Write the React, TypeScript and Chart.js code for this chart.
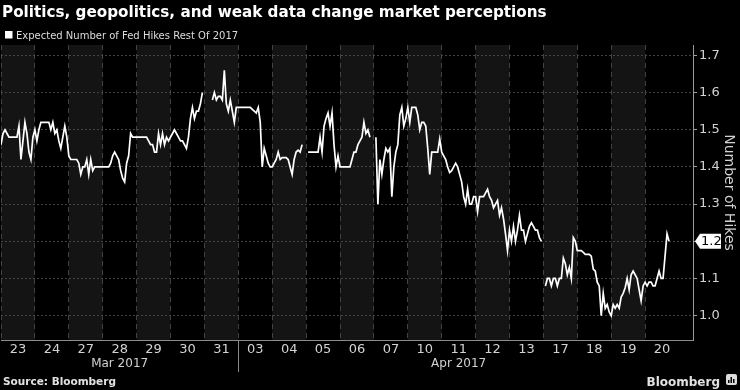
import React, { useEffect, useRef } from 'react';
import { Chart, registerables } from 'chart.js';

Chart.register(...registerables);

const chartTitle = 'Politics, geopolitics, and weak data change market perceptions';
const seriesName = 'Expected Number of Fed Hikes Rest Of 2017';
const axisTitle = 'Number of Hikes';
const sourceText = 'Source: Bloomberg';
const brandText = 'Bloomberg';

const dayLabels = ['23', '24', '27', '28', '29', '30', '31', '03', '04', '05', '06', '07', '10', '11', '12', '13', '17', '18', '19', '20'];
const monthNames = ['Mar 2017', 'Apr 2017'];
const monthStartIdx = [0, 7];
const yTicks = [1.0, 1.1, 1.2, 1.3, 1.4, 1.5, 1.6, 1.7];

// intraday readings per trading day (evenly spaced within each day)
const d23 = [1.46, 1.49, 1.5, 1.49, 1.48, 1.48, 1.48, 1.48, 1.48, 1.51, 1.42, 1.47, 1.52, 1.49, 1.44, 1.42, 1.48];
const d24 = [1.5, 1.47, 1.5, 1.52, 1.52, 1.52, 1.52, 1.52, 1.5, 1.52, 1.49, 1.5, 1.47, 1.45, 1.48, 1.51, 1.48];
const d27 = [1.43, 1.42, 1.42, 1.42, 1.42, 1.41, 1.38, 1.4, 1.4, 1.42, 1.38, 1.42, 1.39, 1.4, 1.4, 1.4, 1.4];
const d28 = [1.4, 1.4, 1.4, 1.4, 1.41, 1.43, 1.44, 1.43, 1.42, 1.39, 1.37, 1.36, 1.41, 1.43, 1.49, 1.48, 1.48];
const d29 = [1.48, 1.48, 1.48, 1.48, 1.48, 1.48, 1.47, 1.46, 1.46, 1.44, 1.44, 1.49, 1.46, 1.49, 1.46, 1.48, 1.47];
const d30 = [1.48, 1.49, 1.5, 1.49, 1.48, 1.47, 1.47, 1.46, 1.45, 1.48, 1.53, 1.56, 1.53, 1.55, 1.55, 1.57, 1.6];
const d31 = [null, null, null, null, 1.58, 1.6, 1.58, 1.59, 1.59, 1.58, 1.66, 1.57, 1.55, 1.58, 1.55, 1.52, 1.56];
const d03 = [1.56, 1.56, 1.56, 1.56, 1.56, 1.56, 1.56, 1.555, 1.55, 1.545, 1.56, 1.52, 1.4, 1.45, 1.43, 1.41, 1.4];
const d04 = [1.4, 1.41, 1.42, 1.44, 1.42, 1.425, 1.425, 1.425, 1.42, 1.4, 1.38, 1.42, 1.44, 1.445, 1.44, 1.46, null];
const d05 = [null, 1.44, 1.44, 1.44, 1.44, 1.44, 1.44, 1.48, 1.44, 1.51, 1.53, 1.545, 1.51, 1.545, 1.46, 1.4, 1.43];
const d06 = [1.4, 1.4, 1.4, 1.4, 1.4, 1.4, 1.42, 1.44, 1.44, 1.46, 1.47, 1.48, 1.52, 1.49, 1.5, 1.48, null];
const d07 = [null, 1.48, 1.3, 1.42, 1.38, 1.42, 1.45, 1.44, 1.45, 1.32, 1.4, 1.44, 1.46, 1.54, 1.56, 1.51, 1.53];
const d10 = [1.56, 1.52, 1.56, 1.56, 1.56, 1.54, 1.5, 1.52, 1.52, 1.51, 1.45, 1.38, 1.44, 1.44, 1.44, 1.44, 1.475];
const d11 = [1.44, 1.43, 1.42, 1.4, 1.385, 1.39, 1.4, 1.41, 1.4, 1.38, 1.36, 1.32, 1.3, 1.34, 1.3, 1.3, 1.32];
const d12 = [1.32, 1.28, 1.32, 1.32, 1.32, 1.33, 1.34, 1.32, 1.31, 1.29, 1.3, 1.31, 1.27, 1.29, 1.26, 1.22, 1.175];
const d13 = [1.23, 1.2, 1.24, 1.2, 1.23, 1.27, 1.23, 1.23, 1.2, 1.22, 1.24, 1.25, 1.24, 1.23, 1.23, 1.21, 1.2];
const d17 = [null, 1.08, 1.1, 1.1, 1.08, 1.1, 1.1, 1.08, 1.1, 1.1, 1.155, 1.14, 1.11, 1.13, 1.1, 1.21, 1.2];
const d18 = [1.175, 1.175, 1.175, 1.17, 1.165, 1.165, 1.165, 1.16, 1.125, 1.12, 1.09, 1.08, 1.0, 1.06, 1.02, 1.03, 1.01];
const d19 = [1.0, 1.03, 1.02, 1.03, 1.02, 1.05, 1.06, 1.075, 1.1, 1.07, 1.11, 1.12, 1.11, 1.1, 1.07, 1.04, 1.08];
const d20 = [1.09, 1.08, 1.09, 1.09, 1.08, 1.08, 1.1, 1.12, 1.1, 1.1, 1.16, 1.22, 1.2];

const dayValues = [d23, d24, d27, d28, d29, d30, d31, d03, d04, d05, d06, d07, d10, d11, d12, d13, d17, d18, d19, d20];
const samplesPerDay = 17;

const FONT = '"DejaVu Sans", Verdana, sans-serif';
const BAND = '#141414';
const TEXT = '#d2d2d2';

export default function App() {
  const ref = useRef<HTMLCanvasElement | null>(null);

  useEffect(() => {
    document.body.style.margin = '0';
    document.body.style.background = '#000';
    const canvas = ref.current;
    if (!canvas) return;

    const points = dayValues.flatMap((arr, d) =>
      arr.map((v, i) => ({ x: d + i / samplesPerDay, y: v }))
    );
    const lastValue = d20[d20.length - 1];

    const decor = {
      id: 'decor',
      beforeDraw(chart: any) {
        const { ctx, chartArea: a, scales } = chart;
        ctx.save();
        ctx.fillStyle = '#000';
        ctx.fillRect(0, 0, chart.width, chart.height);
        ctx.fillStyle = BAND;
        dayLabels.forEach((_, i) => {
          if (i % 2 === 0) {
            const x0 = scales.x.getPixelForValue(i);
            const x1 = scales.x.getPixelForValue(i + 1);
            ctx.fillRect(x0, a.top, x1 - x0, a.bottom - a.top);
          }
        });
        ctx.restore();
      },
      afterDraw(chart: any) {
        const { ctx, chartArea: a, scales } = chart;
        const xs = scales.x;
        const ys = scales.y;
        ctx.save();
        // title
        ctx.fillStyle = '#ffffff';
        ctx.font = `bold 15.2px ${FONT}`;
        ctx.textAlign = 'left';
        ctx.textBaseline = 'alphabetic';
        ctx.fillText(chartTitle, 2, 17);
        // legend
        ctx.fillStyle = '#ffffff';
        ctx.fillRect(5, 31, 7.5, 7.5);
        ctx.fillStyle = '#dcdcdc';
        ctx.font = `10px ${FONT}`;
        ctx.fillText(seriesName, 16, 38.5);
        // month labels and separators
        ctx.font = `12px ${FONT}`;
        ctx.fillStyle = TEXT;
        ctx.textAlign = 'center';
        ctx.textBaseline = 'middle';
        monthNames.forEach((m, k) => {
          const s = monthStartIdx[k];
          const e = k + 1 < monthStartIdx.length ? monthStartIdx[k + 1] : dayLabels.length;
          const cx = (xs.getPixelForValue(s) + xs.getPixelForValue(e)) / 2;
          ctx.fillText(m, cx, 364);
          if (s > 0) {
            const sx = Math.round(xs.getPixelForValue(s)) + 0.5;
            ctx.strokeStyle = '#8a8a8a';
            ctx.lineWidth = 1;
            ctx.beginPath();
            ctx.moveTo(sx, a.bottom);
            ctx.lineTo(sx, 372);
            ctx.stroke();
          }
        });
        // axis title
        ctx.save();
        ctx.translate(728.5, (a.top + a.bottom) / 2);
        ctx.rotate(Math.PI / 2);
        ctx.font = `14px ${FONT}`;
        ctx.fillStyle = TEXT;
        ctx.fillText(axisTitle, 0, 0);
        ctx.restore();
        // last value callout
        const cy = ys.getPixelForValue(lastValue);
        const r = a.right;
        ctx.fillStyle = '#ffffff';
        ctx.beginPath();
        ctx.moveTo(r + 2, cy);
        ctx.lineTo(r + 7, cy - 7.5);
        ctx.lineTo(r + 28, cy - 7.5);
        ctx.lineTo(r + 28, cy + 7.5);
        ctx.lineTo(r + 7, cy + 7.5);
        ctx.closePath();
        ctx.fill();
        ctx.fillStyle = '#000';
        ctx.font = `13px ${FONT}`;
        ctx.textAlign = 'left';
        ctx.fillText(lastValue.toFixed(1), r + 8, cy + 0.5);
        // source & brand
        ctx.textBaseline = 'alphabetic';
        ctx.fillStyle = '#e2e2e2';
        ctx.font = `bold 10.5px ${FONT}`;
        ctx.fillText(sourceText, 3, 385);
        ctx.font = `bold 12px ${FONT}`;
        ctx.textAlign = 'right';
        ctx.fillText(brandText, 720, 386);
        // brand icon
        ctx.fillStyle = '#dcdcdc';
        ctx.beginPath();
        ctx.roundRect(726, 374, 11, 11, 2);
        ctx.fill();
        ctx.fillStyle = '#000';
        ctx.fillRect(728, 380, 1.5, 3);
        ctx.fillRect(730.5, 377, 1.5, 6);
        ctx.fillRect(733, 379, 1.5, 4);
        ctx.restore();
      },
    };

    const chart = new Chart(canvas, {
      type: 'line',
      data: {
        datasets: [
          {
            label: seriesName,
            data: points as any,
            borderColor: '#ffffff',
            backgroundColor: '#ffffff',
            borderWidth: 1.7,
            pointRadius: 0,
            tension: 0,
            spanGaps: false,
          },
        ],
      },
      options: {
        animation: false,
        responsive: false,
        devicePixelRatio: 1,
        layout: { padding: { top: 45, left: 1, right: 0, bottom: 0 } },
        plugins: {
          legend: { display: false },
          title: { display: false },
          tooltip: { enabled: false },
        },
        scales: {
          x: {
            type: 'linear',
            min: 0,
            max: 692 / 33.9,
            afterBuildTicks: (s: any) => {
              s.ticks = dayLabels.map((_, i) => ({ value: i }));
            },
            afterFit: (s: any) => {
              s.height = 50;
              s.paddingLeft = 0;
              s.paddingRight = 0;
            },
            grid: {
              color: '#424242',
              lineWidth: 1,
              drawTicks: false,
            },
            border: { display: true, color: '#8c8c8c', width: 1, dash: [5, 4] },
            ticks: {
              autoSkip: false,
              maxRotation: 0,
              labelOffset: 17,
              padding: 2,
              color: TEXT,
              font: { family: FONT, size: 13 },
              callback: (v: any) => dayLabels[Math.round(v)] ?? '',
            },
          },
          y: {
            type: 'linear',
            position: 'right',
            min: 0.9345,
            max: 1.728,
            afterBuildTicks: (s: any) => {
              s.ticks = yTicks.map((v) => ({ value: v }));
            },
            afterFit: (s: any) => {
              s.width = 47;
              s.paddingTop = 0;
              s.paddingBottom = 0;
            },
            grid: {
              color: '#444444',
              lineWidth: 1,
              tickLength: 4,
              tickColor: '#a0a0a0',
            },
            border: { display: true, color: '#9a9a9a', width: 1, dash: [2, 2] },
            ticks: {
              padding: 2,
              color: TEXT,
              font: { family: FONT, size: 13 },
              callback: (v: any) => Number(v).toFixed(1),
            },
          },
        },
      },
      plugins: [decor],
    });

    return () => chart.destroy();
  }, []);

  return (
    <div style={{ width: 740, height: 390, background: '#000' }}>
      <canvas ref={ref} width={740} height={390} style={{ display: 'block' }} />
    </div>
  );
}
